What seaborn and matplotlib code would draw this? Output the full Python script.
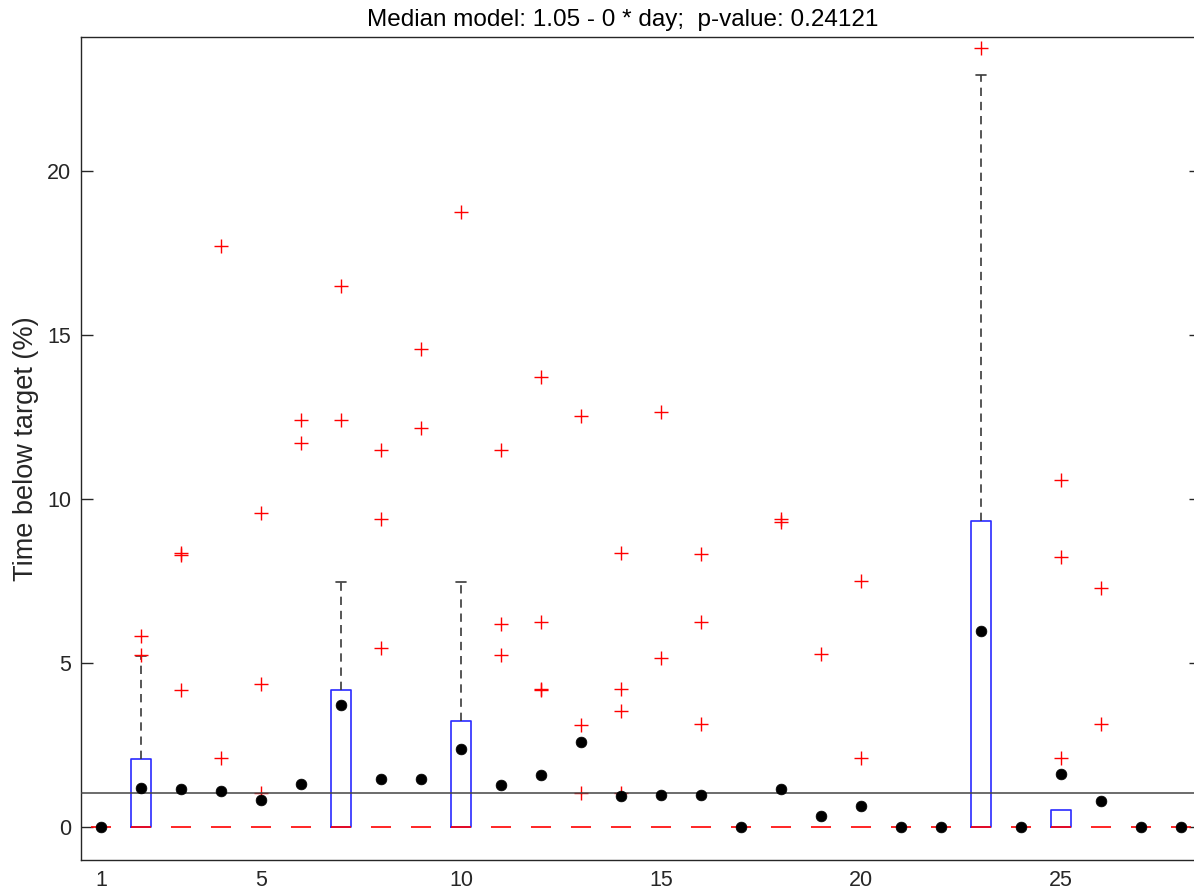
import numpy as np
import pandas as pd
import matplotlib
matplotlib.use("Agg")
import matplotlib.pyplot as plt
import seaborn as sns

# ---------------- data ----------------
days = list(range(1, 29))
box_q1 = [0.0] * 28
box_median = [0.0] * 28
box_q3 = [0, 2.07, 0, 0, 0, 0, 4.18, 0, 0, 3.23, 0, 0, 0, 0,
          0, 0, 0, 0, 0, 0, 0, 0, 9.33, 0, 0.52, 0, 0, 0]
whisker_hi = [0, 5.22, 0, 0, 0, 0, 7.46, 0, 0, 7.46, 0, 0, 0, 0,
              0, 0, 0, 0, 0, 0, 0, 0, 22.93, 0, 0.52, 0, 0, 0]
means = [0, 1.19, 1.15, 1.10, 0.82, 1.33, 3.71, 1.48, 1.48, 2.39, 1.28, 1.59, 2.59, 0.95,
         0.98, 0.98, 0, 1.16, 0.33, 0.64, 0, 0, 5.98, 0, 1.62, 0.79, 0, 0]

outlier_day = [2, 2,
               3, 3, 3,
               4, 4,
               5, 5, 5,
               6, 6,
               7, 7,
               8, 8, 8,
               9, 9,
               10,
               11, 11, 11,
               12, 12, 12, 12,
               13, 13, 13,
               14, 14, 14, 14,
               15, 15,
               16, 16, 16,
               18, 18,
               19,
               20, 20,
               23,
               25, 25, 25,
               26, 26]
outlier_value = [5.82, 5.26,
                 8.35, 8.28, 4.18,
                 17.71, 2.10,
                 9.57, 4.36, 1.04,
                 12.41, 11.71,
                 16.49, 12.41,
                 11.49, 9.39, 5.46,
                 14.57, 12.16,
                 18.75,
                 11.49, 6.19, 5.25,
                 13.72, 6.25, 4.22, 4.17,
                 12.52, 3.11, 1.04,
                 8.35, 4.22, 3.54, 1.04,
                 12.65, 5.15,
                 8.33, 6.25, 3.14,
                 9.38, 9.30,
                 5.27,
                 7.50, 2.10,
                 23.75,
                 10.58, 8.23, 2.10,
                 7.29, 3.14]

model_intercept = 1.05
title_text = "Median model: 1.05 - 0 * day;  p-value: 0.24121"
ylabel_text = "Time below target (%)"
x_ticks = [1, 5, 10, 15, 20, 25]
y_ticks = [0, 5, 10, 15, 20]

# ---------------- style ----------------
sns.set_theme(style="white")
plt.rcParams["font.family"] = ["Liberation Sans", "DejaVu Sans"]

W, H = 1194, 890
fig = plt.figure(figsize=(W / 100, H / 100), dpi=100)
ax = fig.add_axes([81 / W, 30 / H, 1120 / W, 823 / H])

# boxes
stats = []
for q1, med, q3, wh in zip(box_q1, box_median, box_q3, whisker_hi):
    stats.append(dict(med=med, q1=q1, q3=q3, whislo=q1, whishi=wh, fliers=[]))

bp = ax.bxp(stats, positions=days, widths=0.5, showfliers=False,
            boxprops=dict(color="#2a2aff", lw=1.2),
            medianprops=dict(color="red", lw=1.2),
            whiskerprops=dict(color="#3a3a3a", lw=1.2, ls=(0, (5, 3.5))),
            capprops=dict(color="#3a3a3a", lw=1.2),
            capwidths=0.25, manage_ticks=False)

# hide degenerate boxes and caps / whiskers that coincide with the box edges
for i, (q1, q3, wh) in enumerate(zip(box_q1, box_q3, whisker_hi)):
    bp["caps"][2 * i].set_visible(False)
    bp["whiskers"][2 * i].set_visible(False)
    if q3 <= q1:
        bp["boxes"][i].set_visible(False)
    if wh <= q3:
        bp["caps"][2 * i + 1].set_visible(False)
        bp["whiskers"][2 * i + 1].set_visible(False)
for m in bp["medians"]:
    m.set_zorder(2.5)

# outliers
sns.scatterplot(x=outlier_day, y=outlier_value, marker="+", color="red",
                s=110, linewidth=1.0, ax=ax, zorder=2.2, legend=False)

# model line
ax.axhline(model_intercept, color="#444444", lw=1.1, zorder=3)

# means
sns.scatterplot(x=days, y=means, color="black", s=60, edgecolor="black",
                linewidth=0.5, ax=ax, zorder=4, legend=False)

ax.set_xlim(0.5, 28.5)
ax.set_ylim(-1.0, 24.08)
ax.set_xticks(x_ticks)
ax.set_yticks(y_ticks)
ax.set_xticklabels([str(t) for t in x_ticks])
ax.set_yticklabels([str(t) for t in y_ticks])
ax.tick_params(axis="y", direction="in", length=8.5, width=1, left=True, right=True,
               labelsize=15.5, labelcolor="#262626", color="#262626", pad=7)
ax.tick_params(axis="x", length=0, labelsize=15.5, labelcolor="#262626", pad=7)
for s in ax.spines.values():
    s.set_visible(True)
    s.set_color("#262626")
    s.set_linewidth(1.0)

ax.set_title(title_text, fontsize=17.5, color="black", pad=8, x=0.4835)
ax.set_ylabel(ylabel_text, fontsize=19.5, color="#262626", labelpad=6)
ax.set_xlabel("")
ax.grid(False)

fig.savefig("out.png", dpi=100)
